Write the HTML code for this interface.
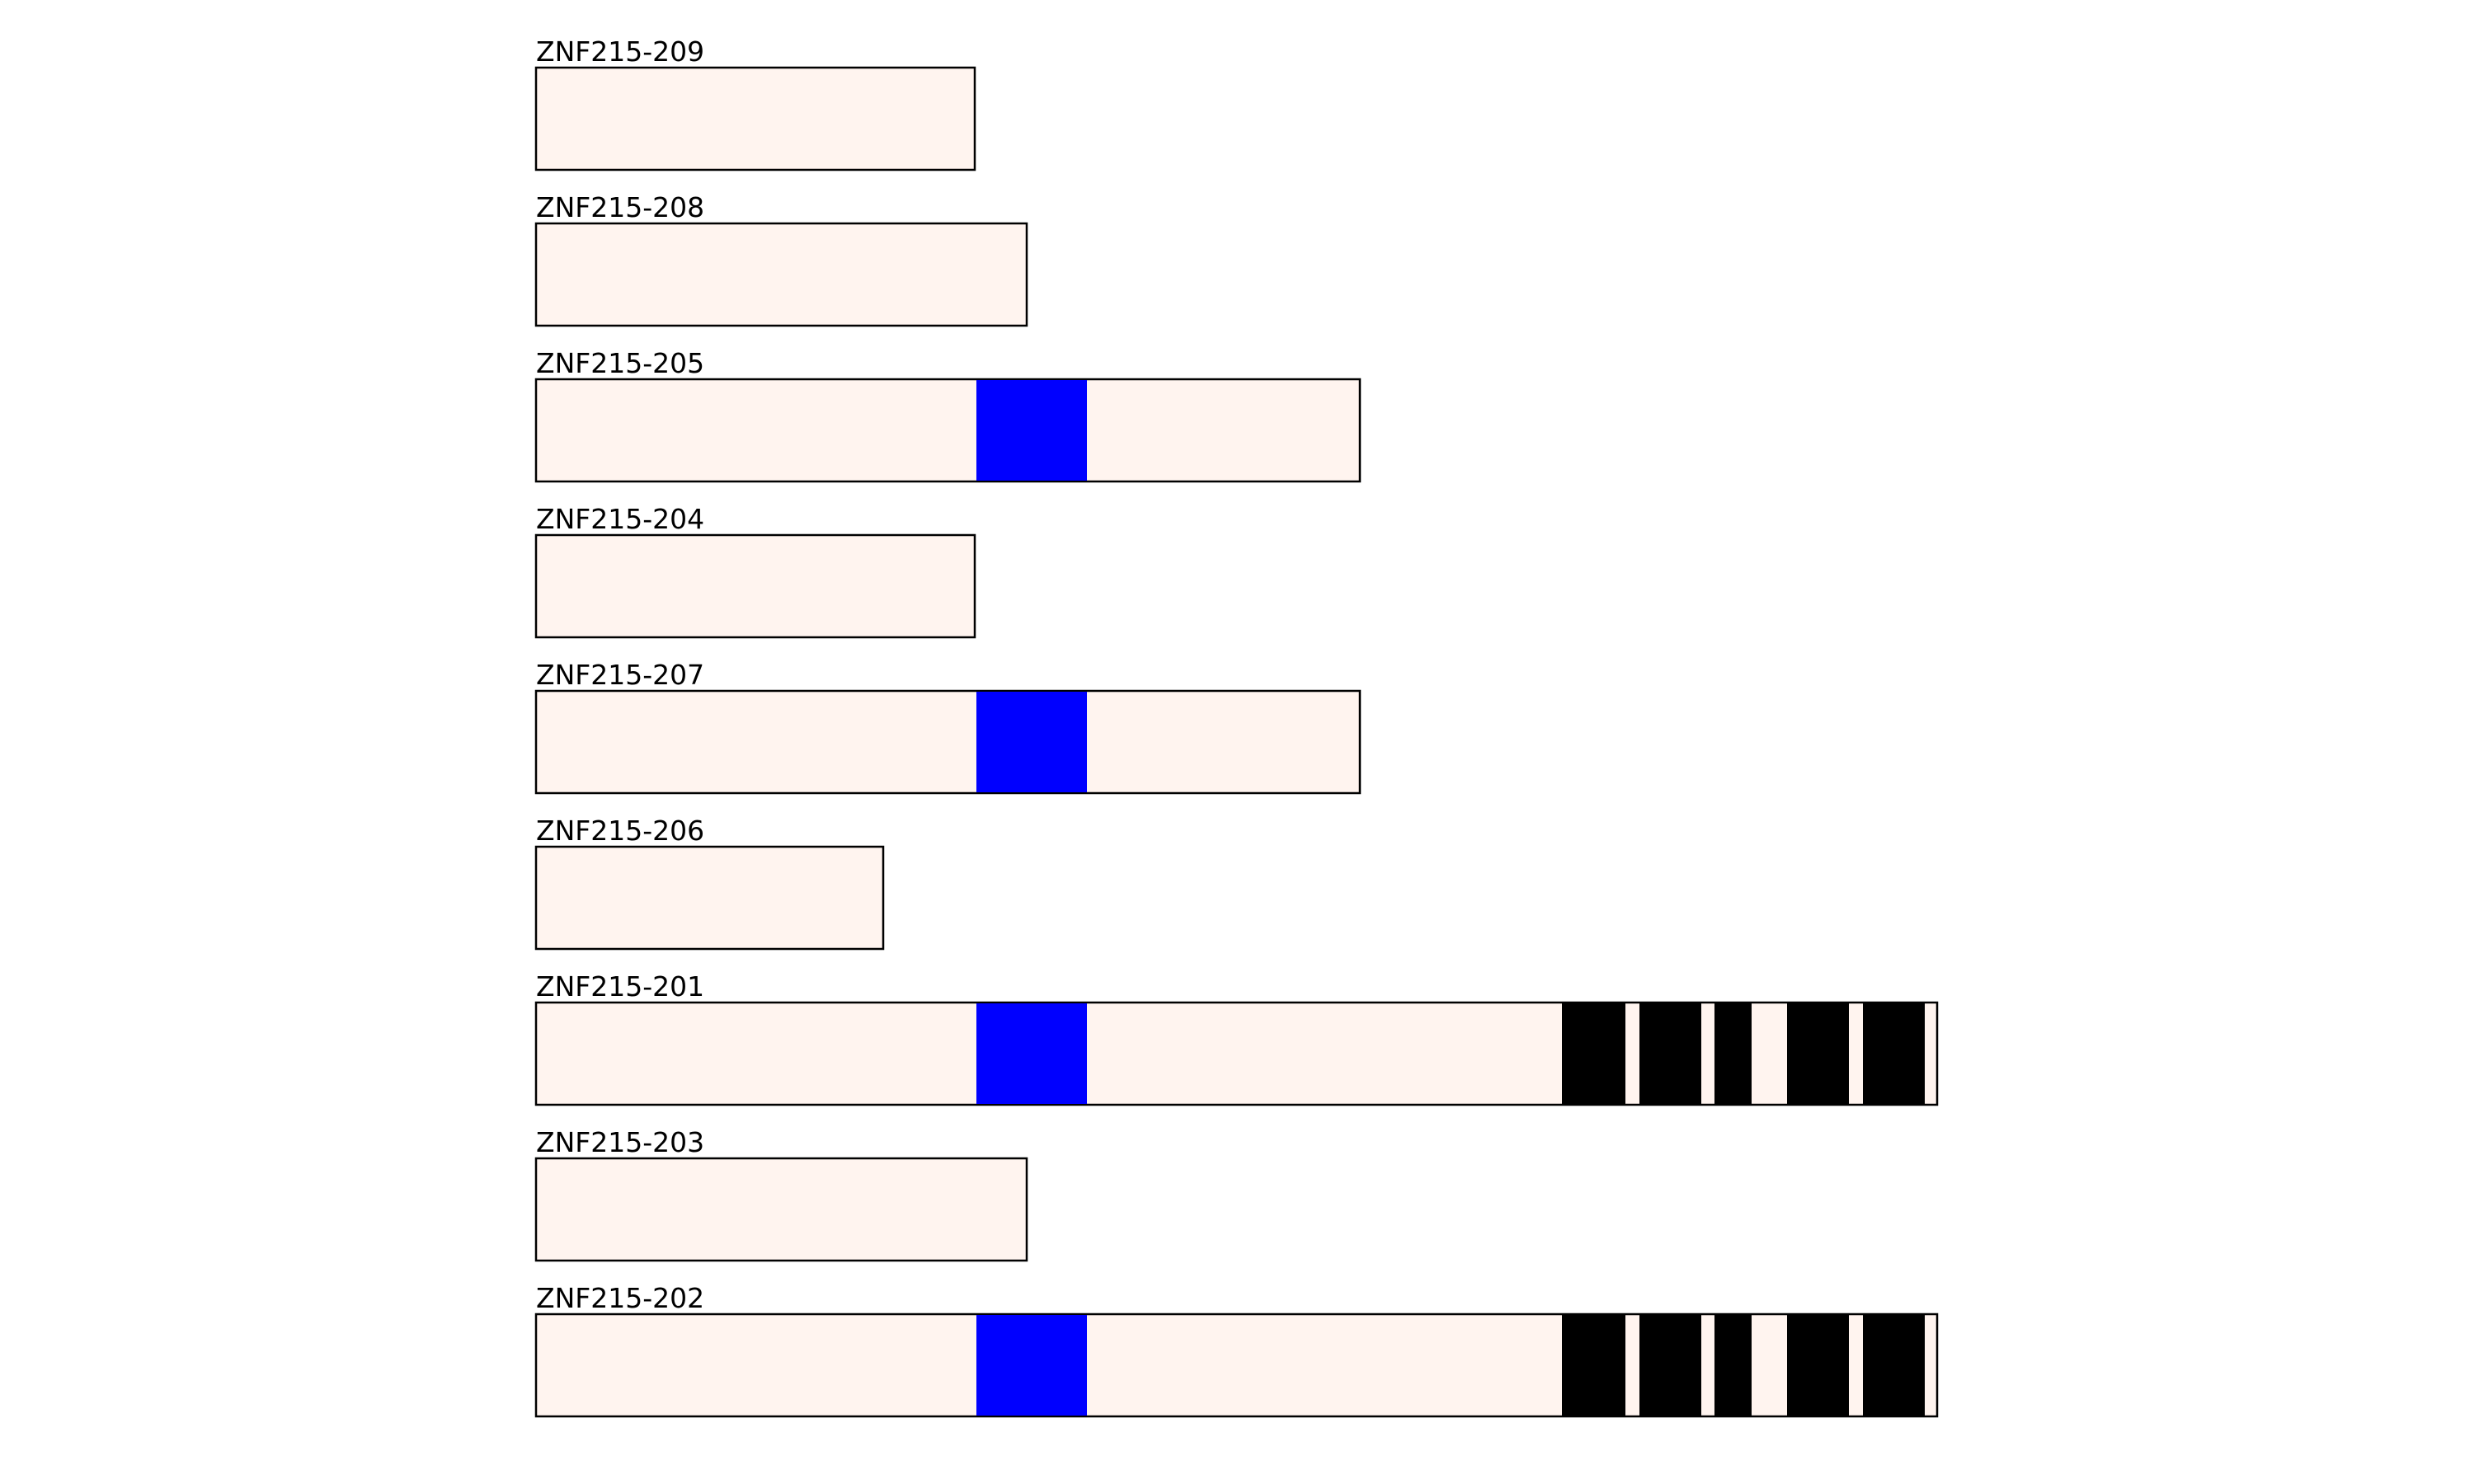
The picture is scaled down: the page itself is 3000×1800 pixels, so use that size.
<!DOCTYPE html>
<html><head><meta charset="utf-8"><style>html,body{margin:0;padding:0;background:#fff}svg{display:block}</style></head>
<body>
<svg width="3000" height="1800" xmlns="http://www.w3.org/2000/svg" font-family="DejaVu Sans, Liberation Sans, sans-serif" font-size="33">
<g stroke="#000" stroke-width="2.5" fill="#fff4ef">
<rect x="650" y="82" width="532" height="124"/>
<rect x="650" y="271" width="595" height="124"/>
<rect x="650" y="460" width="999" height="124"/>
<rect x="650" y="649" width="532" height="124"/>
<rect x="650" y="838" width="999" height="124"/>
<rect x="650" y="1027" width="421" height="124"/>
<rect x="650" y="1216" width="1699" height="124"/>
<rect x="650" y="1405" width="595" height="124"/>
<rect x="650" y="1594" width="1699" height="124"/>
</g>
<g fill="#0000ff">
<rect x="1184" y="461" width="134" height="122"/>
<rect x="1184" y="839" width="134" height="122"/>
<rect x="1184" y="1217" width="134" height="122"/>
<rect x="1184" y="1595" width="134" height="122"/>
</g>
<g fill="#000">
<rect x="1894" y="1216" width="77" height="124"/>
<rect x="1988" y="1216" width="75" height="124"/>
<rect x="2079" y="1216" width="45" height="124"/>
<rect x="2167" y="1216" width="75" height="124"/>
<rect x="2259" y="1216" width="75" height="124"/>
<rect x="1894" y="1594" width="77" height="124"/>
<rect x="1988" y="1594" width="75" height="124"/>
<rect x="2079" y="1594" width="45" height="124"/>
<rect x="2167" y="1594" width="75" height="124"/>
<rect x="2259" y="1594" width="75" height="124"/>
</g>
<g fill="#000">
<text x="650" y="74">ZNF215-209</text>
<text x="650" y="263">ZNF215-208</text>
<text x="650" y="452">ZNF215-205</text>
<text x="650" y="641">ZNF215-204</text>
<text x="650" y="830">ZNF215-207</text>
<text x="650" y="1019">ZNF215-206</text>
<text x="650" y="1208">ZNF215-201</text>
<text x="650" y="1397">ZNF215-203</text>
<text x="650" y="1586">ZNF215-202</text>
</g>
</svg>
</body></html>
